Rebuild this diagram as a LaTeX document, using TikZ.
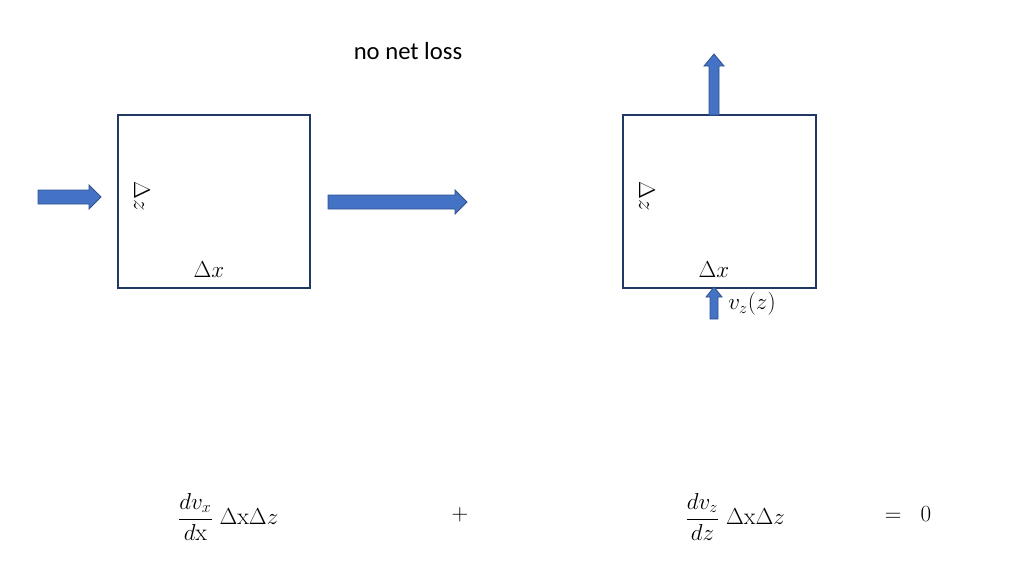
\documentclass[tikz,border=0pt]{standalone}
\usepackage{fontspec}
\newfontfamily\carl{Carlito}
\usepackage{amsmath}
\begin{document}
\begin{tikzpicture}[x=0.75pt,y=-0.75pt,
  lbl/.style={font=\fontsize{18}{20}\selectfont, inner sep=0pt}]
\useasboundingbox (0,0) rectangle (1024,576);
\definecolor{arrblue}{HTML}{4472C4}
\definecolor{arredge}{HTML}{2F528F}
\definecolor{navy}{HTML}{203864}
\tikzset{arr/.style={fill=arrblue, draw=arredge, line width=0.6pt},
  boxst/.style={draw=navy, line width=1.8pt}}
\node[font=\carl\fontsize{18.5}{20}\selectfont] (title) at (408,51) {no net loss};
% left box
\draw[boxst] (118,115) rectangle (310,288);
\node[lbl, rotate=-90] (dzl) at (142,196) {$\Delta z$};
\node[lbl] (dxl) at (209,270) {$\Delta x$};
% arrows left
\draw[arr] (38,190) -- (89,190) -- (89,185) -- (101,197) -- (89,209) -- (89,204) -- (38,204) -- cycle;
\draw[arr] (328,195) -- (455,195) -- (455,190) -- (467,202) -- (455,214) -- (455,209) -- (328,209) -- cycle;
% right box
\draw[boxst] (623,115) rectangle (816,288);
\node[lbl, rotate=-90] (dzr) at (647,196) {$\Delta z$};
\node[lbl] (dxr) at (714,270) {$\Delta x$};
\draw[arr] (709,115) -- (709,66) -- (704,66) -- (714,54) -- (724,66) -- (719,66) -- (719,115) -- cycle;
\draw[arr] (710,319) -- (710,297) -- (706,297) -- (714,287) -- (722,297) -- (718,297) -- (718,319) -- cycle;
\node[lbl, anchor=west] (vz) at (728,304) {$v_z(z)$};
% formula
\node[lbl] (f1) at (228,517) {$\dfrac{dv_x}{d\mathrm{x}}\;\Delta\mathrm{x}\Delta z$};
\node[lbl] (plus) at (460,515) {$+$};
\node[lbl] (f2) at (735,517) {$\dfrac{dv_z}{dz}\;\Delta\mathrm{x}\Delta z$};
\node[lbl] (eq) at (908,514) {$=\;\;0$};
\end{tikzpicture}
\end{document}
